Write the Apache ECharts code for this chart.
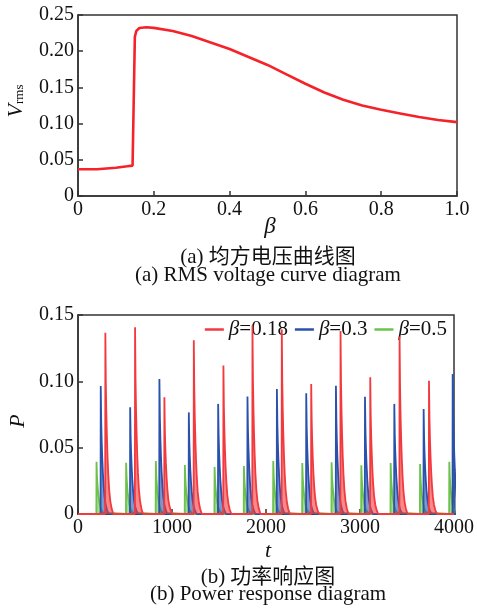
<!DOCTYPE html>
<html>
<head>
<meta charset="utf-8">
<script src="https://cdn.jsdelivr.net/npm/echarts@6/dist/echarts.min.js"></script>
<style>
html,body{margin:0;padding:0;background:#fff;}
#chart{width:477px;height:616px;}
</style>
</head>
<body>
<div id="chart"></div>
<script>
// ---- (a) RMS voltage curve ----
const betaValues = [0, 0.05, 0.10, 0.13, 0.144, 0.150, 0.154, 0.162, 0.18, 0.20, 0.25, 0.30, 0.35, 0.40, 0.45, 0.50, 0.55, 0.60, 0.65, 0.70, 0.75, 0.80, 0.85, 0.90, 0.95, 1.00];
const vrmsValues = [0.037, 0.037, 0.039, 0.041, 0.042, 0.220, 0.228, 0.232, 0.233, 0.2322, 0.228, 0.221, 0.212, 0.203, 0.192, 0.181, 0.168, 0.155, 0.143, 0.133, 0.125, 0.119, 0.114, 0.109, 0.105, 0.102];
const topXTicks = [0, 0.2, 0.4, 0.6, 0.8, 1.0];
const topYTicks = [0, 0.05, 0.10, 0.15, 0.20, 0.25];

// ---- (b) Power response ----
const seriesNames = ['β=0.18', 'β=0.3', 'β=0.5'];
const redStarts = [291, 607, 919, 1232, 1547, 1856, 2168, 2481, 2793, 3109, 3421, 3734];
const redPeaks = [0.1367, 0.1408, 0.088, 0.131, 0.112, 0.1420, 0.139, 0.098, 0.138, 0.103, 0.1337, 0.1005];
const blueStarts = [242, 555, 866, 1179, 1491, 1803, 2116, 2428, 2744, 3053, 3365, 3677, 3986];
const bluePeaks = [0.0965, 0.0805, 0.1017, 0.0766, 0.083, 0.0885, 0.0943, 0.091, 0.0966, 0.0883, 0.083, 0.0792, 0.1056];
const greenStarts = [197, 512, 828, 1137, 1453, 1765, 2077, 2386, 2698, 3014, 3326, 3639, 3950];
const greenPeaks = [0.0394, 0.0387, 0.040, 0.037, 0.0355, 0.0362, 0.040, 0.0385, 0.039, 0.0367, 0.0385, 0.0377, 0.0394];
// pulse shape: time offset from pulse start, fraction of peak
const pulseOffsets = [-2, 0, 5, 10, 16, 23, 31, 41, 53, 67, 85];
const pulseFractions = [0, 1, 0.72, 0.57, 0.44, 0.32, 0.22, 0.13, 0.07, 0.03, 0];
const bottomXTicks = [0, 1000, 2000, 3000, 4000];
const bottomYTicks = [0, 0.05, 0.10, 0.15];

function buildPulses(starts, peaks) {
  const d = [[0, 0]];
  starts.forEach((s, i) => {
    pulseOffsets.forEach((o, k) => d.push([s + o, peaks[i] * pulseFractions[k]]));
  });
  d.push([4000, 0]);
  return d;
}

const SERIF = '"Liberation Serif", "Times New Roman", serif';
const CJK = '"Liberation Serif", "Noto Sans CJK SC", serif';
const AX = '#333';

const chart = echarts.init(document.getElementById('chart'), null, {renderer: 'canvas'});

function axisCommon() {
  return {
    axisLine: {show: true, lineStyle: {color: AX, width: 1.5}},
    axisTick: {show: true, inside: true, length: 5, lineStyle: {color: AX, width: 1.5}},
    splitLine: {show: false},
    axisLabel: {color: '#111', fontFamily: SERIF, fontSize: 20, margin: 4}
  };
}

const option = {
  animation: false,
  backgroundColor: '#fff',
  grid: [
    {left: 78, top: 15, width: 379, height: 181, show: true, borderColor: AX, borderWidth: 1.5},
    {left: 78, top: 315, width: 380, height: 199, show: true, borderColor: AX, borderWidth: 1.5}
  ],
  xAxis: [
    Object.assign(axisCommon(), {
      gridIndex: 0, type: 'value', min: topXTicks[0], max: topXTicks[topXTicks.length - 1], interval: 0.2,
      axisLabel: Object.assign(axisCommon().axisLabel, {formatter: v => v === 0 ? '0' : v.toFixed(1)})
    }),
    Object.assign(axisCommon(), {
      gridIndex: 1, type: 'value', min: bottomXTicks[0], max: bottomXTicks[bottomXTicks.length - 1], interval: 1000,
      axisLabel: Object.assign(axisCommon().axisLabel, {formatter: v => String(v)})
    })
  ],
  yAxis: [
    Object.assign(axisCommon(), {
      gridIndex: 0, type: 'value', min: topYTicks[0], max: topYTicks[topYTicks.length - 1], interval: 0.05,
      axisLabel: Object.assign(axisCommon().axisLabel, {formatter: v => v === 0 ? '0' : v.toFixed(2)})
    }),
    Object.assign(axisCommon(), {
      gridIndex: 1, type: 'value', min: bottomYTicks[0], max: bottomYTicks[bottomYTicks.length - 1], interval: 0.05,
      axisLabel: Object.assign(axisCommon().axisLabel, {formatter: v => v === 0 ? '0' : v.toFixed(2)})
    })
  ],
  legend: {
    right: 25, top: 314,
    data: seriesNames,
    icon: 'rect', itemWidth: 19, itemHeight: 2.5, itemGap: 7,
    formatter: name => '{b|β}{n|' + name.slice(1) + '}',
    textStyle: {
      color: '#111', fontFamily: SERIF, fontSize: 21,
      rich: {
        b: {fontFamily: SERIF, fontSize: 21, fontStyle: 'italic', color: '#111'},
        n: {fontFamily: SERIF, fontSize: 21, color: '#111'}
      }
    }
  },
  series: [
    {
      type: 'line', xAxisIndex: 0, yAxisIndex: 0, symbol: 'none', smooth: false,
      data: betaValues.map((b, i) => [b, vrmsValues[i]]),
      lineStyle: {color: '#f5222a', width: 2.6}
    },
    {
      name: seriesNames[2], type: 'line', xAxisIndex: 1, yAxisIndex: 1, symbol: 'none', z: 2,
      color: '#6cc24a',
      data: buildPulses(greenStarts, greenPeaks),
      lineStyle: {color: '#6cc24a', width: 1.8},
      areaStyle: {color: '#6cc24a', opacity: 0.6}
    },
    {
      name: seriesNames[1], type: 'line', xAxisIndex: 1, yAxisIndex: 1, symbol: 'none', z: 3,
      color: '#2a52ad',
      data: buildPulses(blueStarts, bluePeaks),
      lineStyle: {color: '#2a52ad', width: 1.8},
      areaStyle: {color: '#2a52ad', opacity: 0.6}
    },
    {
      name: seriesNames[0], type: 'line', xAxisIndex: 1, yAxisIndex: 1, symbol: 'none', z: 4,
      color: '#f23a3e',
      data: buildPulses(redStarts, redPeaks),
      lineStyle: {color: '#f23a3e', width: 1.8},
      areaStyle: {color: '#f23a3e', opacity: 0.6}
    }
  ],
  graphic: [
    {type: 'text', x: 16, y: 101, rotation: Math.PI / 2,
      style: {text: '{v|V}{s|rms}', align: 'center', verticalAlign: 'middle',
        rich: {v: {font: 'italic 22px ' + SERIF, fill: '#111'}, s: {font: '13px ' + SERIF, fill: '#111', padding: [8, 0, 0, 0]}}}},
    {type: 'text', x: 18, y: 421, rotation: Math.PI / 2,
      style: {text: 'P', font: 'italic 22px ' + SERIF, fill: '#111', align: 'center', verticalAlign: 'middle'}},
    {type: 'text', x: 270, y: 227,
      style: {text: 'β', font: 'italic 23px ' + SERIF, fill: '#111', align: 'center', verticalAlign: 'middle'}},
    {type: 'text', x: 268, y: 551,
      style: {text: 't', font: 'italic 22px ' + SERIF, fill: '#111', align: 'center', verticalAlign: 'middle'}},
    {type: 'text', x: 268, y: 257,
      style: {text: '(a) 均方电压曲线图', font: '21px ' + CJK, fill: '#111', align: 'center', verticalAlign: 'middle'}},
    {type: 'text', x: 268, y: 275,
      style: {text: '(a) RMS voltage curve diagram', font: '21px ' + SERIF, fill: '#111', align: 'center', verticalAlign: 'middle'}},
    {type: 'text', x: 268, y: 577,
      style: {text: '(b) 功率响应图', font: '21px ' + CJK, fill: '#111', align: 'center', verticalAlign: 'middle'}},
    {type: 'text', x: 268, y: 594,
      style: {text: '(b) Power response diagram', font: '21px ' + SERIF, fill: '#111', align: 'center', verticalAlign: 'middle'}}
  ]
};
chart.setOption(option);
</script>
</body>
</html>
